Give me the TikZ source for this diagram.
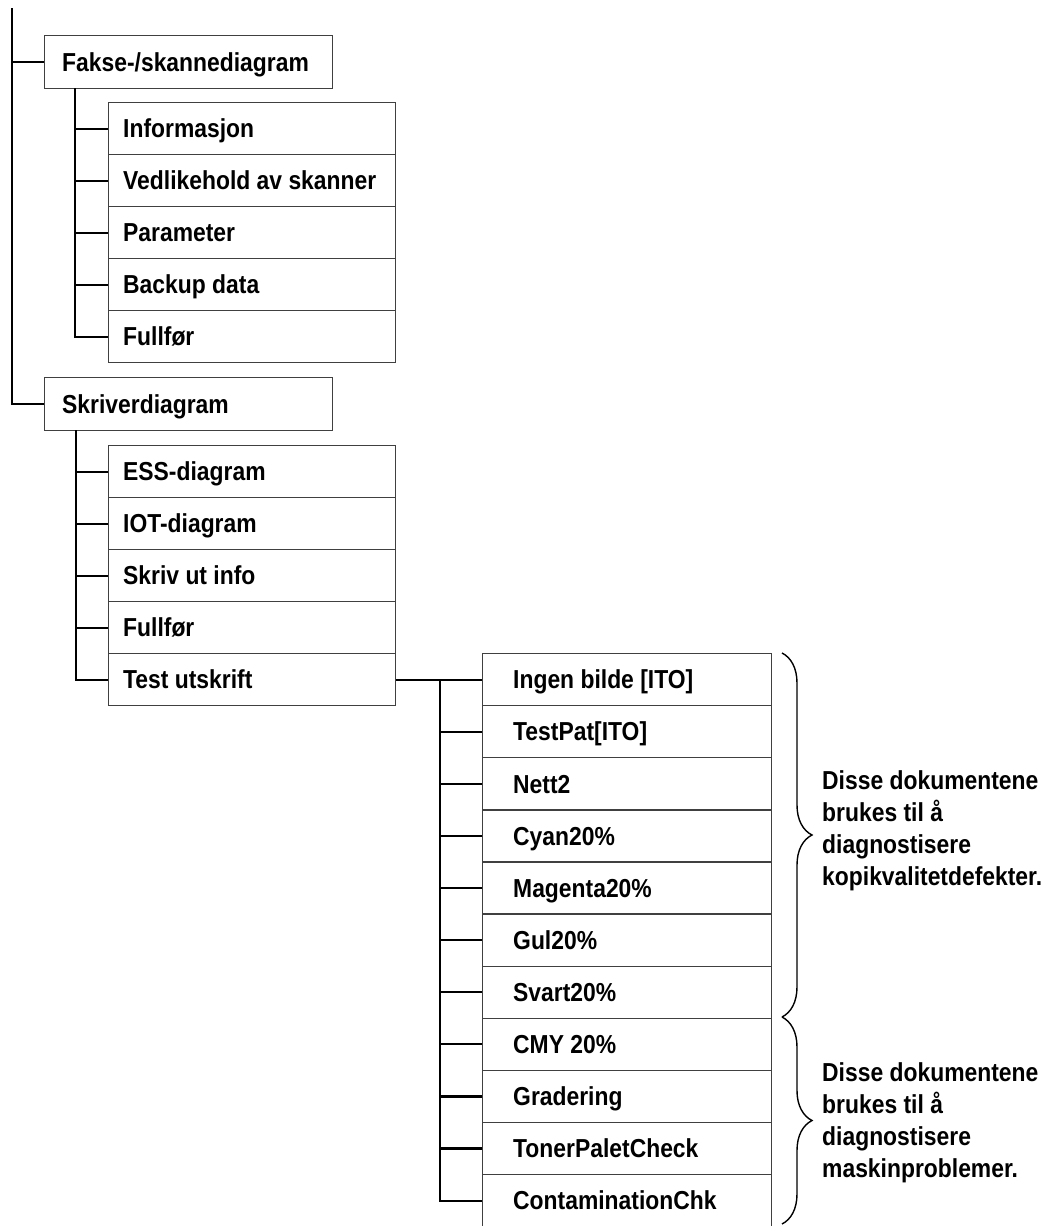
\documentclass[tikz,border=0pt]{standalone}
\usepackage{fontspec}
\setmainfont{Liberation Sans}[FakeStretch=0.88]
\usetikzlibrary{decorations.pathreplacing,calc}
\begin{document}
\begin{tikzpicture}[x=1pt,y=-1pt,
  box/.style={draw=black!75, line width=1.2pt, rectangle, anchor=north west, inner sep=0pt},
  top box/.style={box, minimum width=288pt, minimum height=53pt},
  sub box/.style={box, minimum width=287pt, minimum height=52pt},
  test box/.style={box, minimum width=289pt, minimum height=52pt},
  conn/.style={line width=2.2pt, black},
  lbl/.style={anchor=west, inner sep=0pt, text height=18.5pt, text depth=0pt, font=\fontsize{26}{30}\selectfont\bfseries},
  note/.style={anchor=west, align=left, inner sep=0pt, font=\fontsize{26}{32}\selectfont\bfseries},
  bracepath/.style={decorate, decoration={brace, amplitude=30pt}, line width=1.4pt}
]
\useasboundingbox (0,0) rectangle (1053,1226);
\fill[white] (0,0) rectangle (1053,1226);

% top level boxes
\node[top box] (fax) at (44,35) {};
\node[lbl] (faxt) at ([xshift=18pt]fax.west) {Fakse-/skannediagram};
\node[top box] (skr) at (44,377) {};
\node[lbl] (skrt) at ([xshift=18pt]skr.west) {Skriverdiagram};

% root connector
\coordinate (root) at (12,8);
\draw[conn] (root) |- (skr.west);
\draw[conn] (root |- fax.west) -- (fax.west);

% Fakse children
\foreach \nm/\txt [count=\i from 0] in {f1/{Informasjon}, f2/{Vedlikehold av skanner}, f3/{Parameter}, f4/{Backup data}, f5/{Fullfør}}{
  \node[sub box] (\nm) at (108,{102+52*\i}) {};
  \node[lbl] (\nm t) at ([xshift=15pt]\nm.west) {\txt};
}
\coordinate (fx) at (75,88);
\draw[conn] (fx) |- (f5.west);
\foreach \nm in {f1,f2,f3,f4}{
  \draw[conn] (\nm.west -| fx) -- (\nm.west);
}

% Skriver children
\foreach \nm/\txt [count=\i from 0] in {s1/{ESS-diagram}, s2/{IOT-diagram}, s3/{Skriv ut info}, s4/{Fullfør}, s5/{Test utskrift}}{
  \node[sub box] (\nm) at (108,{445+52*\i}) {};
  \node[lbl] (\nm t) at ([xshift=15pt]\nm.west) {\txt};
}
\coordinate (sx) at (76,430);
\draw[conn] (sx) |- (s5.west);
\foreach \nm in {s1,s2,s3,s4}{
  \draw[conn] (\nm.west -| sx) -- (\nm.west);
}

% Test utskrift children
\foreach \nm/\txt [count=\i from 0] in {p1/{Ingen bilde [ITO]}, p2/{TestPat[ITO]}, p3/{Nett2}, p4/{Cyan20\%}, p5/{Magenta20\%}, p6/{Gul20\%}, p7/{Svart20\%}, p8/{CMY 20\%}, p9/{Gradering}, p10/{TonerPaletCheck}, p11/{ContaminationChk}}{
  \node[test box] (\nm) at (482,{653+52.1*\i}) {};
  \node[lbl] (\nm t) at ([xshift=31pt]\nm.west) {\txt};
}
\draw[conn] (s5.east) -- (p1.west);
\coordinate (px) at (440,679);
\draw[conn] (px) |- (p11.west);
\foreach \nm in {p2,p3,p4,p5,p6,p7,p8,p9,p10}{
  \draw[conn] (\nm.west -| px) -- (\nm.west);
}

% braces
\coordinate (b1) at (782,653);
\coordinate (b2) at (782,1017);
\coordinate (b3) at (782,1224);
\draw[bracepath] (b1) -- (b2);
\draw[bracepath] (b2) -- (b3);

\node[note] (n1) at (822,831) {Disse dokumentene\\brukes til å\\diagnostisere\\kopikvalitetdefekter.};
\node[note] (n2) at (822,1123) {Disse dokumentene\\brukes til å\\diagnostisere\\maskinproblemer.};
\end{tikzpicture}
\end{document}
